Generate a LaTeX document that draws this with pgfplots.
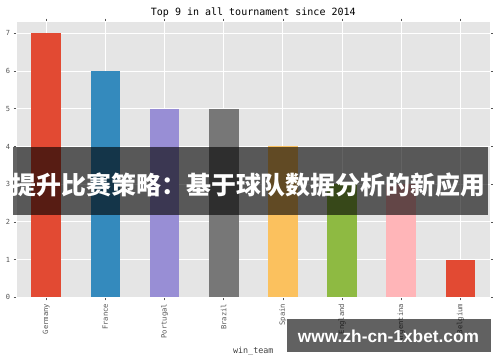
\documentclass[border=0pt]{standalone}
\usepackage{fontspec}
\setmainfont{DejaVu Sans}
\setmonofont{DejaVu Sans Mono}
\newfontfamily\cjk{Noto Sans CJK SC}
\newfontfamily\wm{Liberation Sans}
\usepackage{pgfplots}
\pgfplotsset{compat=1.18}
\definecolor{c1}{HTML}{E24A33}
\definecolor{c2}{HTML}{348ABD}
\definecolor{c3}{HTML}{988ED5}
\definecolor{c4}{HTML}{777777}
\definecolor{c5}{HTML}{FBC15E}
\definecolor{c6}{HTML}{8EBA42}
\definecolor{c7}{HTML}{FFB5B8}
\definecolor{axbg}{HTML}{E5E5E5}
\definecolor{tickgray}{HTML}{555555}
\begin{document}
\begin{tikzpicture}[x=1pt,y=1pt]
\useasboundingbox (0,0) rectangle (500,362);
\begin{axis}[
  at={(16.7pt,64.7pt)}, anchor=south west,
  scale only axis, width=473.2pt, height=275.6pt,
  xmin=-0.5, xmax=7.5, ymin=0, ymax=7.31,
  axis background/.style={fill=axbg},
  axis line style={white, line width=0.8pt},
  grid=major, major grid style={white, line width=0.8pt},
  axis on top=false,
  ybar, bar shift=0pt, bar width=29.6pt,
  xtick={0,...,7}, ytick={0,...,7},
  xticklabels={Germany,France,Portugal,Brazil,Spain,England,Argentina,Belgium},
  /pgf/number format/assume math mode=true,
  tick align=outside, major tick length=3pt,
  tick style={tickgray, line width=0.6pt},
  xticklabel style={rotate=90, anchor=east, font=\ttfamily\fontsize{7.2}{8}\selectfont, text=tickgray},
  yticklabel style={font=\ttfamily\fontsize{7}{8}\selectfont, text=tickgray},
  title={Top 9 in all tournament since 2014},
  title style={font=\ttfamily\fontsize{10}{12}\selectfont, at={(axis description cs:0.5,1)}, anchor=base, yshift=0.7pt},
  xlabel={win\_team},
  xlabel style={font=\ttfamily\fontsize{8.4}{10}\selectfont, text=black!75, at={(axis description cs:0.5,0)}, anchor=base, yshift=-55.7pt},
]
\addplot[fill=c1, draw=none] coordinates {(0,7)};
\addplot[fill=c2, draw=none] coordinates {(1,6)};
\addplot[fill=c3, draw=none] coordinates {(2,5)};
\addplot[fill=c4, draw=none] coordinates {(3,5)};
\addplot[fill=c5, draw=none] coordinates {(4,4)};
\addplot[fill=c6, draw=none] coordinates {(5,3)};
\addplot[fill=c7, draw=none] coordinates {(6,3)};
\addplot[fill=c1, draw=none] coordinates {(7,1)};
\end{axis}
% banner overlay
\fill[black, fill opacity=0.61] (13,147) rectangle (488,215);
\node[text=white, font=\cjk\bfseries\fontsize{24.9}{28}\selectfont, inner sep=0pt, anchor=center] at (248.5,177.5) {提升比赛策略：基于球队数据分析的新应用};
% watermark
\fill[black, fill opacity=0.62] (287,10) rectangle (491,43);
\node[text=white, font=\wm\bfseries\fontsize{17.3}{20}\selectfont, inner sep=0pt, anchor=center] at (388.5,25.5) {www.zh-cn-1xbet.com};
\end{tikzpicture}
\end{document}
